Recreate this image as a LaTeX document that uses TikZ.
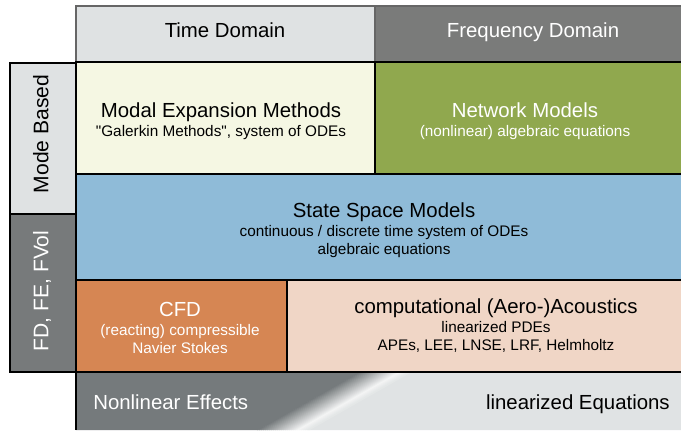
\documentclass[tikz,border=0pt]{standalone}
\usepackage{fontspec}
\setmainfont{Liberation Sans}
\usetikzlibrary{positioning}

\definecolor{hdrlight}{RGB}{223,226,227}
\definecolor{hdrdark}{RGB}{122,123,122}
\definecolor{fdgray}{RGB}{119,122,123}
\definecolor{modalcream}{RGB}{245,247,227}
\definecolor{netgreen}{RGB}{144,168,78}
\definecolor{stateblue}{RGB}{143,187,216}
\definecolor{cfdorange}{RGB}{214,134,83}
\definecolor{caapeach}{RGB}{240,214,198}
\definecolor{banddark}{RGB}{117,122,124}
\definecolor{bandlight}{RGB}{224,227,228}
\definecolor{bandwhite}{RGB}{244,245,245}

\tikzset{
  cell/.style={draw=black, line width=1pt},
  hdr/.style={draw=black!60, line width=0.8pt},
  side/.style={draw=black, line width=0.8pt},
  title/.style={font=\fontsize{14.5}{17}\selectfont, text height=1.5ex, text depth=.3ex, inner sep=0pt},
  sub/.style={font=\fontsize{10.9}{12.8}\selectfont, align=center, inner sep=0pt},
  sidelabel/.style={font=\fontsize{15}{18}\selectfont, rotate=90, text height=1.5ex, text depth=.3ex, inner sep=0pt},
}

\begin{document}
\begin{tikzpicture}[x=0.025cm, y=0.025cm]
\clip (0,0) rectangle (681,430);

% en-tete
\filldraw[hdr, fill=hdrlight] (76,368) rectangle (375,424);
\filldraw[hdr, fill=hdrdark] (375,368) rectangle (692,424);

% colonne gauche
\filldraw[side, fill=hdrlight] (10,216) rectangle (76,367);
\filldraw[side, fill=fdgray] (10,58) rectangle (76,216);

% bande du bas
\fill[banddark] (76,0) -- (258,0) -- (360,58) -- (76,58) -- cycle;
\fill[bandlight] (308,0) -- (692,0) -- (692,58) -- (410,58) -- cycle;
\foreach \i in {0,...,19} {
  \pgfmathtruncatemacro{\p}{5*\i}
  \fill[bandwhite!\p!banddark] (257+2*\i,0) -- (260+2*\i,0) -- (362+2*\i,58) -- (359+2*\i,58) -- cycle;
}
\foreach \i in {0,...,5} {
  \pgfmathtruncatemacro{\p}{100-16*\i}
  \fill[bandwhite!\p!bandlight] (297+2*\i,0) -- (300+2*\i,0) -- (402+2*\i,58) -- (399+2*\i,58) -- cycle;
}
\draw[side] (76,0) -- (76,58);

% cases
\filldraw[cell, fill=modalcream] (76,256) rectangle (375,368);
\filldraw[cell, fill=netgreen] (375,256) rectangle (692,368);
\filldraw[cell, fill=stateblue] (76,150) rectangle (692,256);
\filldraw[cell, fill=cfdorange] (76,58) rectangle (287,150);
\filldraw[cell, fill=caapeach] (287,58) rectangle (692,150);

% textes
\node[title] (time) at (225,397) {Time Domain};
\node[title, white] (freq) at (533,397) {Frequency Domain};
\node[sidelabel] (mode) at (44,296) {Mode Based};
\node[sidelabel, white] (fdfe) at (44,139) {FD, FE, FVol};

\node[title] (modal) at (221,317) {Modal Expansion Methods};
\node[sub] (modalsub) at (221,297) {\textquotedbl Galerkin Methods\textquotedbl, system of ODEs};
\node[title, white] (network) at (525,317) {Network Models};
\node[sub, white] (networksub) at (525,297) {(nonlinear) algebraic equations};

\node[title] (state) at (384,217) {State Space Models};
\node[sub] (statesub) at (384,188) {continuous / discrete time system of ODEs\\algebraic equations};

\node[title, white] (cfd) at (180,118) {CFD};
\node[sub, white] (cfdsub) at (180,91) {(reacting) compressible\\Navier Stokes};
\node[title] (caa) at (496,121) {computational (Aero-)Acoustics};
\node[sub] (caasub) at (496,93) {linearized PDEs\\APEs, LEE, LNSE, LRF, Helmholtz};

\node[title, white, anchor=west] (nonlin) at (93,25) {Nonlinear Effects};
\node[title, anchor=east] (lineq) at (670,25) {linearized Equations};

\end{tikzpicture}
\end{document}
